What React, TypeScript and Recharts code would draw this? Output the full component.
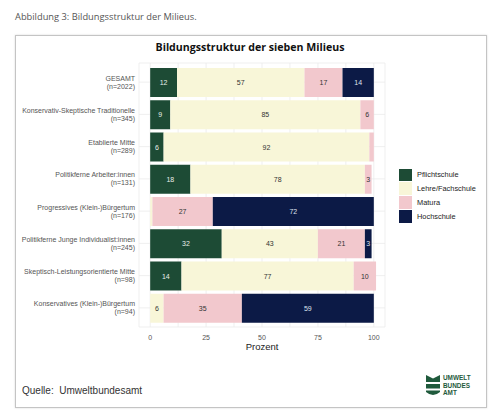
import React from "react";
import { BarChart, Bar, XAxis, YAxis, CartesianGrid, LabelList } from "recharts";

const categories = [
  "GESAMT",
  "Konservativ-Skeptische Traditionelle",
  "Etablierte Mitte",
  "Politikferne Arbeiter:innen",
  "Progressives (Klein-)Bürgertum",
  "Politikferne Junge Individualist:innen",
  "Skeptisch-Leistungsorientierte Mitte",
  "Konservatives (Klein-)Bürgertum",
];
const sampleSizes = ["n=2022", "n=345", "n=289", "n=131", "n=176", "n=245", "n=98", "n=94"];

const pflichtschule = [12, 9, 6, 18, 0, 32, 14, 0];
const lehre = [57, 85, 92, 78, 1, 43, 77, 6];
const matura = [17, 6, 2, 3, 27, 21, 10, 35];
const hochschule = [14, 0, 0, 0, 72, 3, 0, 59];

const xTicks = [0, 12.5, 25, 37.5, 50, 62.5, 75, 87.5, 100];

const series = [
  { key: "pflicht", name: "Pflichtschule", color: "#1d4b35", text: "#e8eee9" },
  { key: "lehre", name: "Lehre/Fachschule", color: "#f8f6d8", text: "#333" },
  { key: "matura", name: "Matura", color: "#f2c8cd", text: "#333" },
  { key: "hoch", name: "Hochschule", color: "#0c1a46", text: "#dfe3ee" },
];

const data = categories.map((c, i) => ({
  label: c,
  n: sampleSizes[i],
  pflicht: pflichtschule[i],
  lehre: lehre[i],
  matura: matura[i],
  hoch: hochschule[i],
}));

const axisFont = "'Liberation Sans', Arial, sans-serif";

function CategoryTick(props: any) {
  const { x, y, payload, index } = props;
  return (
    <g>
      <text x={x + 4} y={y - 1.5} textAnchor="end" fontSize={7} fill="#555" fontFamily={axisFont}>
        {payload.value}
      </text>
      <text x={x + 4} y={y + 6.5} textAnchor="end" fontSize={7} fill="#555" fontFamily={axisFont}>
        ({sampleSizes[index]})
      </text>
    </g>
  );
}

function PercentTick(props: any) {
  const { x, y, payload } = props;
  if (payload.value % 25 !== 0) return null;
  return (
    <text x={x} y={y + 5} textAnchor="middle" fontSize={7} fill="#555" fontFamily={axisFont}>
      {payload.value}
    </text>
  );
}

function segmentLabel(color: string) {
  return (props: any) => {
    const { x, y, width, height, value } = props;
    if (value < 3) return null;
    return (
      <text
        x={x + width / 2}
        y={y + height / 2 + 2.5}
        textAnchor="middle"
        fontSize={7}
        fill={color}
        fontFamily={axisFont}
      >
        {value}
      </text>
    );
  };
}

export default function App() {
  return (
    <div style={{ position: "absolute", left: 0, top: 0, width: 500, height: 414, background: "#fff" }}>
      <div
        style={{
          position: "absolute",
          left: 15,
          top: 10,
          fontFamily: "'Open Sans', sans-serif",
          fontSize: 9.3,
          color: "#555",
        }}
      >
        Abbildung 3: Bildungsstruktur der Milieus.
      </div>
      <div
        style={{
          position: "absolute",
          left: 15,
          top: 35,
          width: 470,
          height: 371,
          border: "1px solid #c4c4c4",
          boxShadow: "0 0 2px rgba(0,0,0,0.15)",
        }}
      />
      <div
        style={{
          position: "absolute",
          left: 0,
          top: 40,
          width: 500,
          textAlign: "center",
          fontFamily: "'Open Sans', sans-serif",
          fontWeight: 700,
          fontSize: 10.6,
          color: "#111",
        }}
      >
        Bildungsstruktur der sieben Milieus
      </div>
      <div style={{ position: "absolute", left: 0, top: 0 }}>
        <BarChart
          width={500}
          height={414}
          data={data}
          layout="vertical"
          margin={{ top: 63, right: 115, bottom: 57, left: 0 }}
        >
          <CartesianGrid stroke="#ebebeb" strokeWidth={0.8} />
          <XAxis
            type="number"
            domain={[-5, 105]}
            ticks={xTicks}
            interval={0}
            axisLine={false}
            tickLine={false}
            height={30}
            tick={<PercentTick />}
          />
          <YAxis
            type="category"
            dataKey="label"
            width={139}
            axisLine={false}
            tickLine={false}
            padding={{ top: 3, bottom: 3 }}
            interval={0}
            tick={<CategoryTick />}
          />
          {series.map((s) => (
            <Bar key={s.key} dataKey={s.key} name={s.name} stackId="a" fill={s.color} barSize={29} isAnimationActive={false}>
              <LabelList dataKey={s.key} content={segmentLabel(s.text)} />
            </Bar>
          ))}
        </BarChart>
      </div>
      <div
        style={{
          position: "absolute",
          left: 139,
          width: 246,
          top: 341,
          textAlign: "center",
          fontFamily: axisFont,
          fontSize: 9.5,
          color: "#222",
        }}
      >
        Prozent
      </div>
      <div style={{ position: "absolute", left: 399, top: 168 }}>
        {series.map((s) => (
          <div key={s.key} style={{ display: "flex", alignItems: "center", height: 13.8 }}>
            <div style={{ width: 13, height: 12.5, background: s.color }} />
            <span style={{ marginLeft: 5, fontFamily: axisFont, fontSize: 7.4, color: "#222" }}>{s.name}</span>
          </div>
        ))}
      </div>
      <div
        style={{
          position: "absolute",
          left: 22,
          top: 385,
          fontFamily: axisFont,
          fontSize: 10,
          color: "#333",
        }}
      >
        Quelle:&nbsp; Umweltbundesamt
      </div>
      <svg style={{ position: "absolute", left: 424, top: 373 }} width={60} height={26}>
        <g fill="#1f5a3c">
          <polygon points="2,2 9,5.5 16,2 16,9 2,9" />
          <rect x={2} y={11} width={14} height={4.5} />
          <path d="M2,17.5 H16 V19 Q9,25 2,19 Z" />
        </g>
        <g fontFamily={axisFont} fontWeight={700} fontSize={6.4} fill="#1f5a3c">
          <text x={19} y={7}>UMWELT</text>
          <text x={19} y={14.5}>BUNDES</text>
          <text x={19} y={22}>AMT</text>
        </g>
      </svg>
    </div>
  );
}
